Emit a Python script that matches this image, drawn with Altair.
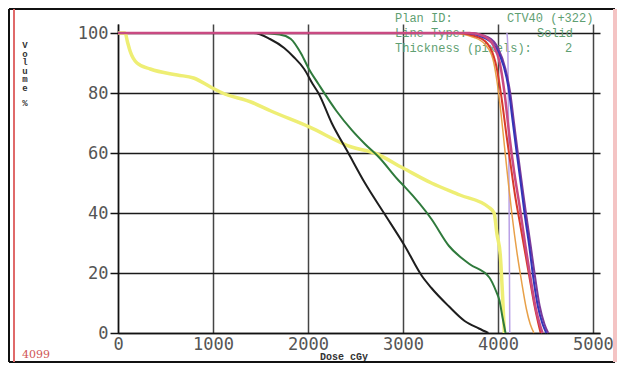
import altair as alt
import pandas as pd

# ---- data (dose cGy, volume %) ----
yellow_x = [0, 75, 100, 127, 200, 340, 625, 795, 975, 1100, 1400, 1610, 2013, 2458, 2700, 3000, 3300, 3600, 3900, 3960, 3990, 4025, 4050, 4068]
yellow_y = [100, 100, 97, 94, 90, 88, 86, 85, 82, 80, 77, 74, 68.7, 62, 60, 55, 50, 46, 42, 40, 33, 26, 12, 0]

black_x = [0, 1430, 1600, 1750, 1850, 1960, 2050, 2110, 2250, 2425, 2600, 2800, 3020, 3200, 3300, 3480, 3650, 3800, 3900]
black_y = [100, 100, 98, 95, 92, 88, 83, 80, 70, 60, 50, 40, 29, 19, 15, 9, 4, 1.5, 0]

green_x = [0, 1450, 1700, 1820, 1930, 2010, 2110, 2300, 2460, 2600, 2750, 2950, 3020, 3300, 3485, 3700, 3910, 3980, 4015, 4050, 4080]
green_y = [100, 100, 99.5, 98, 93, 88, 83, 74, 67.7, 63, 58.5, 51, 48.7, 38, 29, 23, 18.5, 14, 11, 5, 0]

orange_x = [0, 3500, 3750, 3870, 3950, 3990, 4030, 4070, 4110, 4150, 4200, 4250, 4300, 4340, 4380]
orange_y = [100, 100, 98.5, 96, 91, 84, 74, 62, 50, 39, 27, 17, 8, 3, 0]

red_x = [0, 3550, 3800, 3920, 3990, 4040, 4090, 4130, 4180, 4230, 4280, 4330, 4380, 4420, 4450]
red_y = [100, 100, 98.5, 95, 88, 78, 66, 57, 46, 37, 28, 19, 10, 4, 0]

pink_x = [0, 3700, 3850, 3950, 4020, 4070, 4120, 4170, 4230, 4290, 4350, 4400, 4440, 4470]
pink_y = [100, 100, 99, 96, 90, 80, 66, 54, 42, 29, 17, 8, 3, 0]

blue_x = [0, 3650, 3850, 3980, 4060, 4110, 4150, 4190, 4240, 4280, 4330, 4370, 4420, 4470, 4510]
blue_y = [100, 100, 98.5, 95, 89, 82, 72, 62, 50, 40, 29, 19, 9, 3, 0]

purple_x = [0, 3700, 3900, 4000, 4080, 4130, 4170, 4210, 4260, 4300, 4350, 4390, 4440, 4490, 4530]
purple_y = [100, 100, 98.5, 95, 88, 80, 70, 60, 48, 39, 28, 19, 9, 3, 0]

lavender_x = [4095, 4105, 4115, 4120, 4125]
lavender_y = [100, 95, 60, 30, 0]

x_ticks = [0, 1000, 2000, 3000, 4000, 5000]
y_ticks = [0, 20, 40, 60, 80, 100]

series = [
    # name, xs, ys, colour, width
    ("yellow", yellow_x, yellow_y, "#eeee74", 3.5),
    ("lavender", lavender_x, lavender_y, "#b9a0e6", 1.5),
    ("black", black_x, black_y, "#1e1e1e", 2),
    ("green", green_x, green_y, "#2f7a3c", 2),
    ("orange", orange_x, orange_y, "#e8a048", 1.5),
    ("red", red_x, red_y, "#d83a2a", 2),
    ("purple", purple_x, purple_y, "#7a3a9a", 2),
    ("blue", blue_x, blue_y, "#3434b8", 2),
    ("pink", pink_x, pink_y, "#c94a82", 2.5),
]

xs = alt.Scale(domain=[0, 5075], nice=False, zero=False)
ys = alt.Scale(domain=[0, 103], nice=False, zero=False)

one = pd.DataFrame({"k": [0]})
W, H = 482, 309

def txt(text, x, y, color, size, font="Liberation Mono", bold=False, align="left", **kw):
    return alt.Chart(one).mark_text(
        text=text, align=align, baseline="middle", font=font, fontSize=size,
        fontWeight="bold" if bold else "normal", color=color, **kw
    ).encode(x=alt.value(x), y=alt.value(y))

def rule(x, y, x2, y2, color, w):
    return alt.Chart(one).mark_rule(color=color, strokeWidth=w).encode(
        x=alt.value(x), y=alt.value(y), x2=alt.value(x2), y2=alt.value(y2))

green_t = "#5f9f72"
annotations = [
    txt("Plan ID:", 277, -6, green_t, 12),
    txt("CTV40 (+322)", 389, -6, green_t, 12),
    txt("Line Type:", 277, 9, green_t, 12),
    txt("Solid", 419, 9, green_t, 12),
    txt("Thickness (pixels):", 277, 24, green_t, 12),
    txt("2", 447, 24, green_t, 12),
]

base = alt.Chart(pd.DataFrame({"x": x_ticks, "y": y_ticks})).mark_point(opacity=0).encode(
    x=alt.X("x:Q", scale=xs, axis=alt.Axis(values=x_ticks, format="d", title=None, grid=True,
                                            gridColor="#444444",
                                            tickSize=0, labelPadding=3, labelFlush=False)),
    y=alt.Y("y:Q", scale=ys, axis=alt.Axis(values=y_ticks, format="d", title=None, grid=True,
                                            gridColor="#1a1a1a",
                                            tickSize=8, labelPadding=2)),
)

layers = [base] + annotations
for name, sx, sy, col, w in series:
    df = pd.DataFrame({"dose": sx, "vol": sy, "i": range(len(sx))})
    layers.append(
        alt.Chart(df).mark_line(color=col, strokeWidth=w, interpolate="monotone").encode(
            x=alt.X("dose:Q", scale=xs), y=alt.Y("vol:Q", scale=ys), order="i:Q")
    )

extras = [
    txt("V\no\nl\nu\nm\ne", -93, 21, "#333333", 9, bold=True, align="center",
        lineBreak="\n", lineHeight=8.6),
    txt("%", -93, 79, "#333333", 9, bold=True, align="center"),
    txt("4099", -96, 331, "#d05555", 11, font="DejaVu Serif"),
    txt("Dose cGy", 202, 333, "#333333", 10, bold=True),
    rule(-109, -15, 497, -15, "#111111", 2),
    rule(-109, 338, 497, 338, "#111111", 2),
    rule(-109, -15, -109, 338, "#111111", 2),
    rule(-104, -15, -104, 338, "#e06a6a", 2),
    rule(497, -15, 497, 338, "#f4c4c4", 4),
]

chart = alt.layer(*layers, *extras).properties(
    width=W, height=H,
    padding={"left": 110, "top": 16, "right": 17, "bottom": 30},
    autosize=alt.AutoSizeParams(type="none"),
    background="white",
).configure_view(strokeWidth=0).configure_axis(
    gridWidth=1.5, gridOpacity=1,
    domainColor="#111111", domainWidth=1.5,
    tickColor="#111111", tickWidth=1.5,
    labelFont="DejaVu Sans Mono", labelFontSize=17, labelColor="#555555",
)

chart.save("out.html", embed_options={"renderer": "svg", "actions": False})
